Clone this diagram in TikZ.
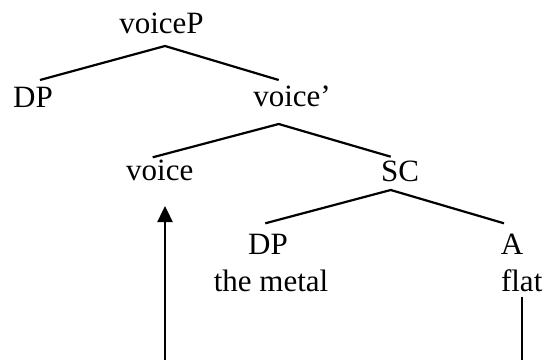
\documentclass[tikz,border=0pt]{standalone}
\usepackage{fontspec}
\setmainfont{Liberation Serif}
\usetikzlibrary{arrows.meta}
\tikzstyle{word} = [inner sep=0pt, anchor=base, font=\fontsize{31}{36}\selectfont]
\tikzstyle{line} = [draw, line width=2.2pt]
\tikzstyle{move} = [draw, line width=2.4pt, -{Triangle[length=16pt,width=15pt]}]

\begin{document}
\begin{tikzpicture}[x=1pt, y=1pt]
			\useasboundingbox (0,0) rectangle (546,360);
			% Place nodes
			\node [word] (vp) at (161.5,326.5) {voiceP};
			\node [word] (dpa) at (33,252.7) {DP};
			\node [word] (vbar) at (292,253.3) {voice’};
			\node [word] (v) at (159.8,180) {voice};
			\node [word] (sc) at (400.2,179) {SC};
			\node [word] (dpb) at (268,106) {DP};
			\node [word] (a) at (512,106) {A};
			\node [word] (metal) at (271,69) {the metal};
			\node [word] (flat) at (521.7,68.3) {flat};
			\coordinate (vfoot) at (165,0);
			\coordinate (afoot) at (521.7,0);
			% Draw edges
			\path [line] ([shift={(7,27.3)}]dpa.base) -- ([shift={(3.5,-12.5)}]vp.base)
				-- ([shift={(-13.3,26.7)}]vbar.base);
			\path [line] ([shift={(-7.1,22.7)}]v.base) -- ([shift={(-13.3,-17.3)}]vbar.base)
				-- ([shift={(-9.5,24.3)}]sc.base);
			\path [line] ([shift={(-2.7,30.7)}]dpb.base) -- ([shift={(-9.5,-9)}]sc.base)
				-- ([shift={(-8,30.7)}]a.base);
			\path [move] (vfoot) -- ([shift={(5.2,-26)}]v.base);
			\path [line] ([shift={(0,-5)}]flat.base) -- (afoot);
	\end{tikzpicture}
\end{document}
